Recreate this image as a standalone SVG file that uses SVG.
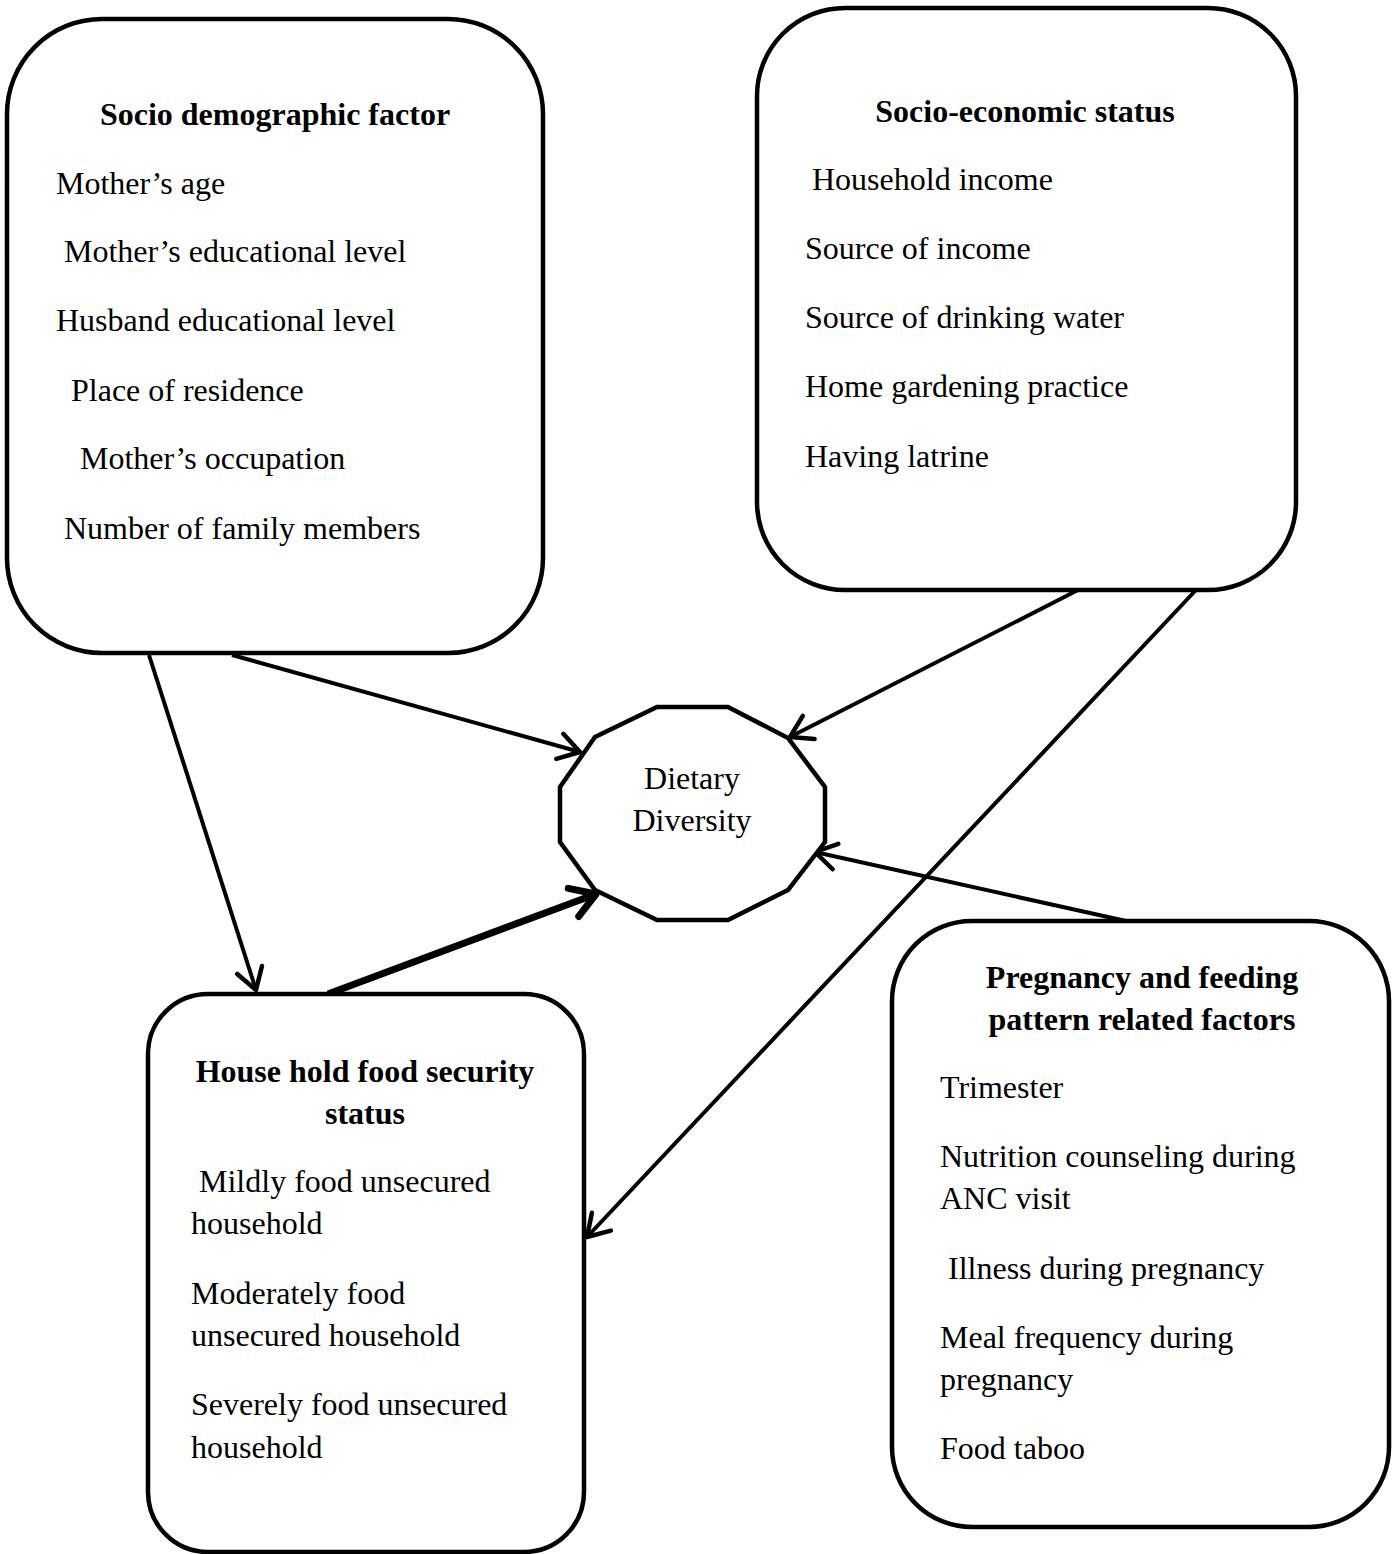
<svg xmlns="http://www.w3.org/2000/svg" width="1392" height="1554" viewBox="0 0 1392 1554">
<style>
.box{fill:#fff;stroke:#000;stroke-width:4.5}
.t{font-family:"Liberation Serif","Times New Roman",serif;font-size:32px;fill:#000}
.b{font-weight:bold;text-anchor:middle}
.c{fill:none;stroke:#000;stroke-width:4}
.ck{fill:none;stroke:#000;stroke-width:7}
</style>
<defs>
<marker id="ah" markerUnits="userSpaceOnUse" markerWidth="40" markerHeight="40" refX="30" refY="20" orient="auto" viewBox="0 0 40 40">
<path d="M9,7 L30,20 L9,33" fill="none" stroke="#000" stroke-width="4.5" stroke-linecap="round" stroke-linejoin="round"/>
</marker>
<marker id="ahk" markerUnits="userSpaceOnUse" markerWidth="50" markerHeight="50" refX="38" refY="25" orient="auto" viewBox="0 0 50 50">
<path d="M14,10 L38,25 L14,40" fill="none" stroke="#000" stroke-width="7" stroke-linecap="round" stroke-linejoin="round"/>
</marker>
</defs>
<g id="connectors">
<line class="c" x1="232" y1="655" x2="580" y2="752" marker-end="url(#ah)"/>
<line class="c" x1="149" y1="655" x2="256" y2="990" marker-end="url(#ah)"/>
<line class="ck" x1="328" y1="994" x2="596" y2="894" marker-end="url(#ahk)"/>
<line class="c" x1="1078" y1="590" x2="790" y2="737" marker-end="url(#ah)"/>
<line class="c" x1="1196" y1="590" x2="587" y2="1237" marker-end="url(#ah)"/>
<line class="c" x1="1126" y1="921" x2="815" y2="852" marker-end="url(#ah)"/>
</g>
<g id="socio-demographic">
<rect class="box" x="7" y="19" width="536" height="634" rx="95" ry="95"/>
<text class="t b" x="275" y="125">Socio demographic factor</text>
<text class="t" x="56" y="194">Mother’s age</text>
<text class="t" x="64" y="262">Mother’s educational level</text>
<text class="t" x="56" y="331">Husband educational level</text>
<text class="t" x="71" y="401">Place of residence</text>
<text class="t" x="80" y="469">Mother’s occupation</text>
<text class="t" x="64" y="539">Number of family members</text>
</g>
<g id="socio-economic">
<rect class="box" x="757" y="8" width="539" height="582" rx="88" ry="88"/>
<text class="t b" x="1025" y="122">Socio-economic status</text>
<text class="t" x="812" y="190">Household income</text>
<text class="t" x="805" y="259">Source of income</text>
<text class="t" x="805" y="328">Source of drinking water</text>
<text class="t" x="805" y="397">Home gardening practice</text>
<text class="t" x="805" y="467">Having latrine</text>
</g>
<g id="dietary-diversity">
<polygon class="box" points="657,707 728,707 788,738 825,787 825,842 788,890 728,920 657,920 595,890 560,842 560,787 595,737"/>
<text class="t" x="692" y="789" text-anchor="middle">Dietary</text>
<text class="t" x="692" y="831" text-anchor="middle">Diversity</text>
</g>
<g id="food-security">
<rect class="box" x="148" y="994" width="436" height="558" rx="60" ry="60"/>
<text class="t b" x="365" y="1082">House hold food security</text>
<text class="t b" x="365" y="1124">status</text>
<text class="t" x="199" y="1192">Mildly food unsecured</text>
<text class="t" x="191" y="1234">household</text>
<text class="t" x="191" y="1304">Moderately food</text>
<text class="t" x="191" y="1346">unsecured household</text>
<text class="t" x="191" y="1415">Severely food unsecured</text>
<text class="t" x="191" y="1458">household</text>
</g>
<g id="pregnancy">
<rect class="box" x="892" y="921" width="497" height="606" rx="80" ry="80"/>
<text class="t b" x="1142" y="988">Pregnancy and feeding</text>
<text class="t b" x="1142" y="1030">pattern related factors</text>
<text class="t" x="940" y="1098">Trimester</text>
<text class="t" x="940" y="1167">Nutrition counseling during</text>
<text class="t" x="940" y="1209">ANC visit</text>
<text class="t" x="948" y="1279">Illness during pregnancy</text>
<text class="t" x="940" y="1348">Meal frequency during</text>
<text class="t" x="940" y="1390">pregnancy</text>
<text class="t" x="940" y="1459">Food taboo</text>
</g>
</svg>
